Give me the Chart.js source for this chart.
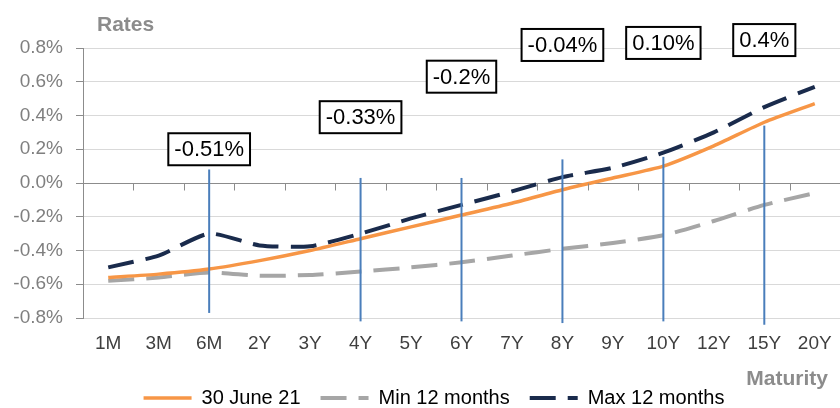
<!DOCTYPE html>
<html>
<head>
<meta charset="utf-8">
<script src="https://cdn.jsdelivr.net/npm/chart.js@4"></script>
<style>
    html, body { margin: 0; padding: 0; background: #ffffff; }
    #wrap { width: 840px; height: 408px; }
</style>
</head>
<body>
<div id="wrap"><canvas id="ratesChart"></canvas></div>
<script>
// data (rates in %)
const maturities = ["1M", "3M", "6M", "2Y", "3Y", "4Y", "5Y", "6Y", "7Y", "8Y", "9Y", "10Y", "12Y", "15Y", "20Y"];
const june21 = [-0.56, -0.54, -0.51, -0.46, -0.40, -0.33, -0.26, -0.19, -0.12, -0.04, 0.03, 0.10, 0.22, 0.36, 0.47];
const min12 = [-0.58, -0.56, -0.53, -0.55, -0.545, -0.525, -0.50, -0.47, -0.43, -0.39, -0.355, -0.31, -0.225, -0.13, -0.06];
const max12 = [-0.50, -0.43, -0.30, -0.37, -0.375, -0.30, -0.21, -0.13, -0.05, 0.035, 0.09, 0.18, 0.30, 0.45, 0.57];
const yTicks = [-0.8, -0.6, -0.4, -0.2, 0, 0.2, 0.4, 0.6, 0.8];

// callouts on the orange curve
const markerAt = ["6M", "4Y", "6Y", "8Y", "10Y", "15Y"];
const markerText = ["-0.51%", "-0.33%", "-0.2%", "-0.04%", "0.10%", "0.4%"];

document.addEventListener("DOMContentLoaded", () => {
    const canvas = document.getElementById("ratesChart");
    if (!canvas) return;

    const FONT = "'Liberation Sans', Arial, sans-serif";

    // where each callout line starts / ends and where its box sits (in % units)
    const calloutLayout = {
        lineTop: [0.08, 0.03, 0.03, 0.14, 0.155, 0.34],
        lineBottom: [-0.77, -0.82, -0.82, -0.83, -0.82, -0.84],
        boxLevel: [0.20, 0.39, 0.63, 0.818, 0.83, 0.847]
    };

    const extras = {
        id: "extras",
        afterLayout(chart) {
            // legend in the original sits a bit right of centre
            chart.legend.left += 12;
            chart.legend.right += 12;
        },
        afterDatasetsDraw(chart) {
            const { ctx, scales: { x, y } } = chart;
            ctx.save();

            // small tick marks hanging under the zero line
            const y0 = Math.round(y.getPixelForValue(0)) + 0.5;
            const step = x.getPixelForValue(1) - x.getPixelForValue(0);
            ctx.strokeStyle = "#8c8c8c";
            ctx.lineWidth = 1;
            for (let i = 1; i <= maturities.length; i++) {
                const px = Math.round(x.getPixelForValue(i) - step / 2) + 0.5;
                ctx.beginPath();
                ctx.moveTo(px, y0);
                ctx.lineTo(px, y0 + 7);
                ctx.stroke();
            }

            // blue vertical lines + labelled boxes
            ctx.font = "22px " + FONT;
            ctx.textAlign = "center";
            ctx.textBaseline = "middle";
            markerAt.forEach((cat, i) => {
                const px = x.getPixelForValue(maturities.indexOf(cat));
                ctx.strokeStyle = "#4a7ebb";
                ctx.lineWidth = 2;
                ctx.beginPath();
                ctx.moveTo(px, y.getPixelForValue(calloutLayout.lineTop[i]));
                ctx.lineTo(px, y.getPixelForValue(calloutLayout.lineBottom[i]));
                ctx.stroke();

                const cy = y.getPixelForValue(calloutLayout.boxLevel[i]);
                const w = ctx.measureText(markerText[i]).width + 12;
                const h = 32;
                ctx.fillStyle = "#ffffff";
                ctx.fillRect(px - w / 2, cy - h / 2, w, h);
                ctx.strokeStyle = "#000000";
                ctx.lineWidth = 2;
                ctx.strokeRect(px - w / 2, cy - h / 2, w, h);
                ctx.fillStyle = "#000000";
                ctx.fillText(markerText[i], px, cy + 1);
            });

            // axis captions
            ctx.font = "bold 21px " + FONT;
            ctx.fillStyle = "#8c8c8c";
            ctx.textBaseline = "alphabetic";
            ctx.textAlign = "left";
            ctx.fillText("Rates", 97, 31);
            ctx.textAlign = "right";
            ctx.fillText("Maturity", 828, 385);

            ctx.restore();
        }
    };

    new Chart(canvas, {
        type: "line",
        data: {
            labels: maturities,
            datasets: [
                {
                    label: "30 June 21",
                    data: june21,
                    borderColor: "#f79646",
                    backgroundColor: "#f79646",
                    borderWidth: 3.5,
                    pointRadius: 0,
                    tension: 0.2
                },
                {
                    label: "Min 12 months",
                    data: min12,
                    borderColor: "#a6a6a6",
                    backgroundColor: "#a6a6a6",
                    borderWidth: 4,
                    borderDash: [26, 12],
                    pointRadius: 0,
                    tension: 0.2
                },
                {
                    label: "Max 12 months",
                    data: max12,
                    borderColor: "#1a2b4c",
                    backgroundColor: "#1a2b4c",
                    borderWidth: 4,
                    borderDash: [26, 12],
                    pointRadius: 0,
                    tension: 0.2
                }
            ]
        },
        options: {
            responsive: true,
            maintainAspectRatio: false,
            animation: false,
            layout: {
                padding: { top: 48, right: -4, left: 0, bottom: -10 }
            },
            plugins: {
                legend: {
                    position: "bottom",
                    labels: {
                        usePointStyle: true,
                        pointStyle: "line",
                        pointStyleWidth: 48,
                        padding: 20,
                        color: "#3f3f3f",
                        font: { family: FONT, size: 20 },
                        generateLabels: (chart) => chart.data.datasets.map((ds, i) => ({
                            text: ds.label,
                            fillStyle: ds.borderColor,
                            strokeStyle: ds.borderColor,
                            lineWidth: ds.borderWidth,
                            lineDash: ds.borderDash || [],
                            pointStyle: "line",
                            hidden: false,
                            datasetIndex: i
                        }))
                    }
                },
                tooltip: { enabled: false }
            },
            scales: {
                x: {
                    offset: true,
                    afterFit: (scale) => {
                        scale.height = 50;
                        scale.paddingLeft = 0;
                        scale.paddingRight = -4;
                    },
                    grid: { display: false, drawTicks: false, offset: true },
                    border: { display: false },
                    ticks: {
                        color: "#3f3f3f",
                        padding: 14,
                        maxRotation: 0,
                        autoSkip: false,
                        font: { family: FONT, size: 19 }
                    }
                },
                y: {
                    min: -0.8,
                    max: 0.8,
                    afterFit: (scale) => { scale.width = 83; },
                    afterBuildTicks: (scale) => {
                        scale.ticks = yTicks.map(v => ({ value: v }));
                    },
                    grid: {
                        color: (c) => (c.tick && Math.abs(c.tick.value) < 1e-9 ? "#8c8c8c" : "#d9d9d9"),
                        tickColor: "#8c8c8c",
                        tickLength: 7,
                        lineWidth: 1
                    },
                    border: { color: "#8c8c8c" },
                    ticks: {
                        color: "#7f7f7f",
                        padding: 13,
                        font: { family: FONT, size: 19 },
                        callback: (v) => v.toFixed(1) + "%"
                    }
                }
            }
        },
        plugins: [extras]
    });
});
</script>
</body>
</html>
